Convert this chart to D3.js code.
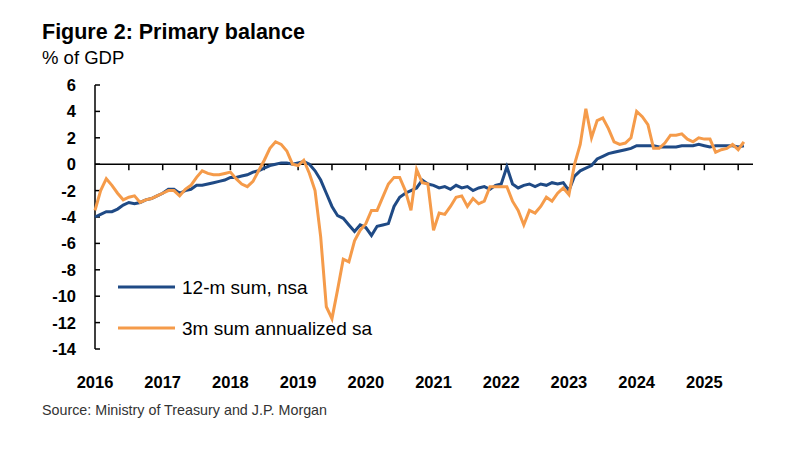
<!DOCTYPE html>
<html>
<head>
<meta charset="utf-8">
<script src="https://d3js.org/d3.v7.min.js"></script>
<style>
body { margin:0; background:#fff; }
text { font-family: "Liberation Sans", Arial, sans-serif; }
</style>
</head>
<body>
<script>
// monthly values, Jan 2016 .. Aug 2025
var startYear = 2016;
var nsa12m = [
  -4.0,-3.8,-3.6,-3.6,-3.4,-3.1,-2.9,-3.0,-2.9,-2.7,-2.6,-2.4,
  -2.2,-1.9,-1.9,-2.2,-2.0,-1.9,-1.6,-1.6,-1.5,-1.4,-1.3,-1.2,
  -1.0,-1.0,-0.9,-0.8,-0.6,-0.5,-0.3,-0.1,0.0,0.1,0.1,0.0,
  0.1,0.2,0.0,-0.5,-1.2,-2.2,-3.2,-3.9,-4.1,-4.6,-5.1,-4.6,
  -4.8,-5.4,-4.7,-4.6,-4.5,-3.2,-2.5,-2.2,-2.0,-1.8,-1.2,-1.5,
  -1.6,-1.8,-1.7,-1.9,-1.6,-1.8,-1.7,-2.0,-1.8,-1.7,-1.9,-1.6,
  -1.5,-0.2,-1.5,-1.8,-1.6,-1.5,-1.7,-1.5,-1.6,-1.4,-1.5,-1.4,
  -2.0,-0.9,-0.5,-0.3,-0.1,0.4,0.6,0.8,0.9,1.0,1.1,1.2,
  1.4,1.4,1.4,1.4,1.3,1.3,1.3,1.3,1.4,1.4,1.4,1.5,
  1.4,1.3,1.4,1.4,1.4,1.4,1.3,1.4
];
var sa3m = [
  -3.5,-2.0,-1.1,-1.6,-2.2,-2.7,-2.5,-2.4,-2.9,-2.7,-2.6,-2.4,
  -2.2,-2.0,-2.0,-2.4,-1.9,-1.6,-1.0,-0.5,-0.7,-0.8,-0.8,-0.7,
  -0.6,-1.1,-1.5,-1.7,-1.3,-0.5,0.3,1.2,1.7,1.5,1.0,0.0,
  -0.1,0.3,-0.7,-2.0,-5.5,-10.8,-11.7,-9.5,-7.2,-7.4,-5.8,-5.0,
  -4.5,-3.5,-3.5,-2.5,-1.5,-1.0,-1.0,-2.0,-3.5,-0.4,-1.4,-1.5,
  -5.0,-3.7,-3.8,-3.2,-2.5,-2.4,-3.2,-2.6,-3.0,-2.8,-1.7,-1.7,
  -1.7,-1.7,-2.8,-3.5,-4.6,-3.5,-3.7,-3.2,-2.5,-2.8,-2.2,-1.8,
  -2.3,0.0,1.5,4.2,2.0,3.3,3.5,2.7,1.7,1.5,1.6,2.0,
  4.0,3.6,3.0,1.2,1.2,1.6,2.2,2.2,2.3,1.9,1.7,2.0,
  1.9,1.9,0.9,1.1,1.2,1.5,1.1,1.7
];
var yTicks = [6,4,2,0,-2,-4,-6,-8,-10,-12,-14];
var yearLabels = [2016,2017,2018,2019,2020,2021,2022,2023,2024,2025];

var svg = d3.select("body").append("svg").attr("width",800).attr("height",449);

var x = d3.scaleLinear().domain([2016, 2025.63]).range([95, 747]);
var y = d3.scaleLinear().domain([-14, 6]).range([349, 85]);

svg.append("text").attr("x",42).attr("y",39).attr("font-size",21.5).attr("font-weight","bold")
  .text("Figure 2: Primary balance");
svg.append("text").attr("x",42).attr("y",64).attr("font-size",18.5).text("% of GDP");

// y axis
svg.append("line").attr("x1",95).attr("x2",95).attr("y1",y(6)).attr("y2",y(-14))
  .attr("stroke","#000").attr("stroke-width",1.5);
yTicks.forEach(function(t){
  svg.append("line").attr("x1",95).attr("x2",100).attr("y1",y(t)).attr("y2",y(t)).attr("stroke","#000").attr("stroke-width",1.5);
  svg.append("text").attr("x",76).attr("y",y(t)+6).attr("text-anchor","end")
    .attr("font-size",16.5).attr("font-weight","bold").text(t);
});

// x axis at zero
svg.append("line").attr("x1",95).attr("x2",753).attr("y1",y(0)).attr("y2",y(0))
  .attr("stroke","#000").attr("stroke-width",1.5);
d3.range(2016.5, 2025.7, 0.5).forEach(function(t){
  svg.append("line").attr("x1",x(t)).attr("x2",x(t)).attr("y1",y(0)).attr("y2",y(0)+6)
    .attr("stroke","#000").attr("stroke-width",1.5);
});
yearLabels.forEach(function(yr){
  svg.append("text").attr("x",x(yr)).attr("y",388).attr("text-anchor","middle")
    .attr("font-size",16.5).attr("font-weight","bold").text(yr);
});

var line = d3.line().x(function(d,i){ return x(startYear + i/12); }).y(function(d){ return y(d); });
svg.append("path").datum(nsa12m).attr("d",line).attr("fill","none")
  .attr("stroke","#1f4a85").attr("stroke-width",3);
svg.append("path").datum(sa3m).attr("d",line).attr("fill","none")
  .attr("stroke","#f59b4a").attr("stroke-width",3);

// legend
var legend = [["12-m sum, nsa","#1f4a85",287],["3m sum annualized sa","#f59b4a",328]];
legend.forEach(function(l){
  svg.append("line").attr("x1",118).attr("x2",175).attr("y1",l[2]).attr("y2",l[2])
    .attr("stroke",l[1]).attr("stroke-width",3);
  svg.append("text").attr("x",182).attr("y",l[2]+7).attr("font-size",19).text(l[0]);
});

svg.append("text").attr("x",42).attr("y",415).attr("font-size",14.3).attr("fill","#333")
  .text("Source: Ministry of Treasury and J.P. Morgan");
</script>
</body>
</html>
